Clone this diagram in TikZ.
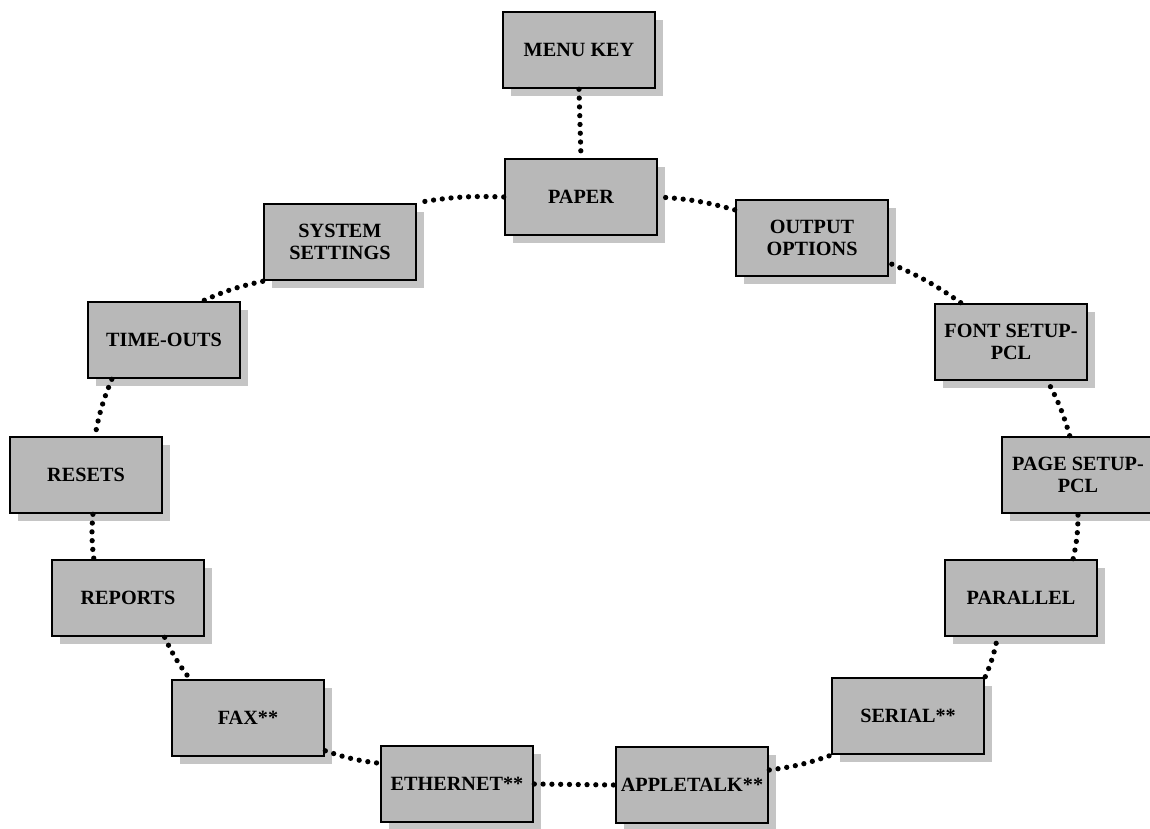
\documentclass[tikz,border=0pt]{standalone}
\usepackage{fontspec}
\setmainfont{Liberation Serif}
\usetikzlibrary{shadows}

\begin{document}
\begin{tikzpicture}
 \tikzstyle{menubox} = [draw=black,line width=1.5pt,fill=black!28,
                        minimum width=3.04cm,minimum height=1.52cm,inner sep=0.1em,
                        align=center,font=\bfseries\fontsize{11.5}{12.5}\selectfont,
                        drop shadow={shadow xshift=0.16cm,shadow yshift=-0.16cm,fill=black!45}];
 \tikzstyle{dots} = [line width=3pt,line cap=round,dash pattern=on 0pt off 5pt];
 \tikzstyle{ring} = [dots,bend right=6];

 \useasboundingbox (0,0) rectangle (23,16.56);

 %% top
 \node[menubox, name = menukey]   at (11.58,15.56) {MENU KEY};
 \node[menubox, name = paper]     at (11.62,12.62) {PAPER};

 %% left half
 \node[menubox, name = sysset]    at (6.80,11.72) {SYSTEM\\SETTINGS};
 \node[menubox, name = timeouts]  at (3.28,9.76)  {TIME-OUTS};
 \node[menubox, name = resets]    at (1.72,7.06)  {RESETS};
 \node[menubox, name = reports]   at (2.56,4.60)  {REPORTS};
 \node[menubox, name = fax]       at (4.96,2.20)  {FAX**};
 \node[menubox, name = ethernet]  at (9.14,0.88)  {ETHERNET**};

 %% right half
 \node[menubox, name = appletalk] at (13.84,0.86) {APPLETALK**};
 \node[menubox, name = serial]    at (18.16,2.24) {SERIAL**};
 \node[menubox, name = parallel]  at (20.42,4.60) {PARALLEL};
 \node[menubox, name = pagepcl]   at (21.56,7.06) {PAGE SETUP-\\PCL};
 \node[menubox, name = fontpcl]   at (20.22,9.72) {FONT SETUP-\\PCL};
 \node[menubox, name = outopt]    at (16.24,11.80) {OUTPUT\\OPTIONS};

 \path (menukey.south) edge [dots] (paper.north);

 %% ring, counterclockwise
 \path (paper.west)      edge [ring] (sysset.north east);
 \path (sysset.south west) edge [ring] (timeouts.45);
 \path (timeouts.217)    edge [ring] (resets.77);
 \path (resets.-80)      edge [ring] (reports.131);
 \path (reports.-47)     edge [ring] (fax.146);
 \path (fax.-23)         edge [ring] (ethernet.165);
 \path (ethernet.east)   edge [dots] (appletalk.west);
 \path (appletalk.11)    edge [ring] (serial.south west);
 \path (serial.north east) edge [ring] (parallel.-121);
 \path (parallel.37)     edge [ring] (pagepcl.south);
 \path (pagepcl.102)     edge [ring] (fontpcl.-47);
 \path (fontpcl.142)     edge [ring] (outopt.-18);
 \path (outopt.160)      edge [ring] (paper.east);

\end{tikzpicture}
\end{document}
